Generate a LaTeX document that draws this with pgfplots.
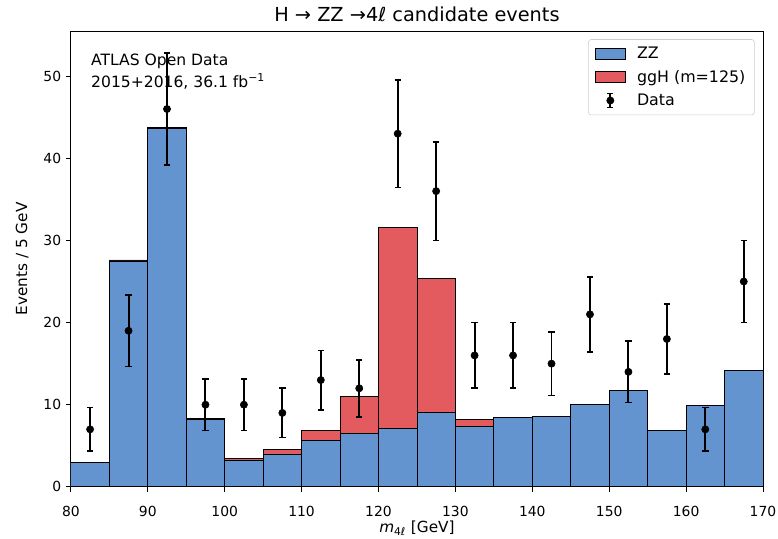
\documentclass[border=0pt]{standalone}
\usepackage{fontspec}
\setmainfont{DejaVu Sans}
\usepackage{pgfplots}
\pgfplotsset{compat=1.18}
\definecolor{zzblue}{HTML}{6394D0}
\definecolor{gghred}{HTML}{E35B5E}
\begin{document}
\begin{tikzpicture}
\begin{axis}[
  scale only axis, width=498bp, height=328bp,
  xmin=80, xmax=170, ymin=0, ymax=55.5,
  xtick={80,90,...,170}, ytick={0,10,...,50},
  tick align=outside, tick pos=left,
  major tick length=3.5bp,
  tick style={black, line width=0.6bp},
  axis line style={line width=0.6bp},
  /pgf/number format/assume math mode=true,
  ticklabel style={font=\fontsize{10bp}{12bp}\selectfont},
  xticklabel style={anchor=base, yshift=-17.8bp},
  xlabel={\textit{m}\textsubscript{4\textit{ℓ}} [GeV]},
  ylabel={Events / 5 GeV},
  label style={font=\fontsize{11bp}{13bp}\selectfont},
  xlabel style={at={(axis description cs:0.5,0)}, anchor=base, yshift=-32.9bp},
  ylabel style={at={(axis description cs:-0.0703,0.5)}, anchor=center},
  title={H → ZZ →4\textit{ℓ} candidate events},
  every axis title/.style={font=\fontsize{13.9bp}{16bp}\selectfont, at={(0.5,1)}, anchor=base, yshift=6.5bp},
  legend style={at={(rel axis cs:0.988,0.982)}, anchor=north east, draw=black!20, rounded corners=2bp,
    fill=white, font=\fontsize{11.4bp}{13bp}\selectfont, row sep=2.8bp, inner xsep=4.5bp, inner ysep=3.5bp},
  legend cell align=left,
]
\addlegendimage{legend image code/.code={\draw[sharp corners, fill=zzblue, draw=black, line width=0.5bp] (0bp,-4bp) rectangle (22bp,4bp); \path (28bp,0bp);}}
\addlegendentry{ZZ}
\addlegendimage{legend image code/.code={\draw[sharp corners, fill=gghred, draw=black, line width=0.5bp] (0bp,-4bp) rectangle (22bp,4bp); \path (28bp,0bp);}}
\addlegendentry{ggH (m=125)}
\addlegendimage{legend image code/.code={\draw[sharp corners, line width=1.4bp] (11bp,-5bp) -- (11bp,5bp); \draw[sharp corners, line width=1.2bp] (8.8bp,-5bp) -- (13.2bp,-5bp); \draw[sharp corners, line width=1.2bp] (8.8bp,5bp) -- (13.2bp,5bp); \fill (11bp,0bp) circle (2.6bp); \path (0bp,0bp) (28bp,0bp);}}
\addlegendentry{Data}

% ZZ + ggH (stack total)
\addplot[ybar, bar width=5, bar shift=0pt, fill=gghred, draw=black, line width=0.6bp, forget plot] coordinates {
(82.5,3.02) (87.5,27.62) (92.5,43.75) (97.5,8.35) (102.5,3.49) (107.5,4.58)
(112.5,6.85) (117.5,11.03) (122.5,31.55) (127.5,25.4) (132.5,8.23) (137.5,8.45)
(142.5,8.58) (147.5,10.02) (152.5,11.72) (157.5,6.86) (162.5,9.95) (167.5,14.16)};
% ZZ
\addplot[ybar, bar width=5, bar shift=0pt, fill=zzblue, draw=black, line width=0.6bp, forget plot] coordinates {
(82.5,3.0) (87.5,27.5) (92.5,43.6) (97.5,8.15) (102.5,3.2) (107.5,4.0)
(112.5,5.68) (117.5,6.45) (122.5,7.13) (127.5,9.05) (132.5,7.34) (137.5,8.4)
(142.5,8.56) (147.5,10.0) (152.5,11.7) (157.5,6.85) (162.5,9.94) (167.5,14.15)};
% Data
\addplot[only marks, mark=*, mark size=2.6bp, black, forget plot,
  error bars/.cd, y dir=both, y explicit,
  error bar style={line width=1.4bp, black},
  error mark options={line width=1.2bp, mark size=2.3bp, black, rotate=90}]
  coordinates {
(82.5,7) +- (0,2.65) (87.5,19) +- (0,4.36) (92.5,46) +- (0,6.78) (97.5,10) +- (0,3.16)
(102.5,10) +- (0,3.16) (107.5,9) +- (0,3.0) (112.5,13) +- (0,3.61) (117.5,12) +- (0,3.46)
(122.5,43) +- (0,6.56) (127.5,36) +- (0,6.0) (132.5,16) +- (0,4.0) (137.5,16) +- (0,4.0)
(142.5,15) +- (0,3.87) (147.5,21) +- (0,4.58) (152.5,14) +- (0,3.74) (157.5,18) +- (0,4.24)
(162.5,7) +- (0,2.65) (167.5,25) +- (0,5.0)};

\node[anchor=north west, inner sep=0pt, align=left, font=\fontsize{11.2bp}{15.6bp}\selectfont]
  at (rel axis cs:0.029,0.95) {ATLAS Open Data\\2015+2016, 36.1 fb\textsuperscript{−1}};
\end{axis}
\pgfresetboundingbox
\useasboundingbox ([xshift=-51bp,yshift=-37.4bp]current axis.south west) rectangle ([xshift=10.8bp,yshift=22.3bp]current axis.north east);
\end{tikzpicture}
\end{document}
